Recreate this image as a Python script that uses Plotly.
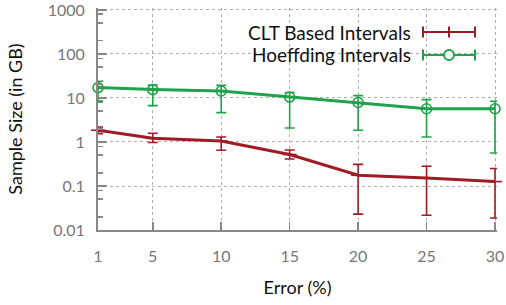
import plotly.graph_objects as go

errors = [1, 5, 10, 15, 20, 25, 30]
x_ticks = [1, 5, 10, 15, 20, 25, 30]
y_tickvals = [0.01, 0.1, 1, 10, 100, 1000]
y_ticktext = ["0.01", "0.1", "1", "10", "100", "1000"]

clt_mid = [1.85, 1.21, 1.05, 0.52, 0.175, 0.152, 0.126]
clt_hi = [2.19, 1.58, 1.30, 0.66, 0.31, 0.28, 0.25]
clt_lo = [1.55, 0.97, 0.65, 0.41, 0.023, 0.0216, 0.0187]

hoef_mid = [17.2, 15.5, 14.4, 10.5, 7.9, 5.7, 5.7]
hoef_hi = [24.0, 19.7, 19.4, 13.3, 11.3, 9.2, 8.4]
hoef_lo = [8.5, 6.7, 4.66, 2.08, 1.85, 1.3, 0.56]

RED = "#a01c24"
GREEN = "#1fa24a"
GRAY = "#888888"
FONT = "Lato"

FIG_W, FIG_H = 506, 305
L, R, T, B = 98, 497, 8, 230  # plot area in figure pixels
W, H = R - L, B - T

fig = go.Figure()

def add_series(mid, hi, lo, color, symbol, msize, name):
    fig.add_trace(go.Scatter(
        x=errors, y=mid, name=name, mode="lines+markers",
        line=dict(color=color, width=3),
        marker=dict(symbol=symbol, size=msize, color=color,
                    line=dict(color=color, width=1.6)),
        error_y=dict(type="data", symmetric=False,
                     array=[h - m for h, m in zip(hi, mid)],
                     arrayminus=[m - l for m, l in zip(mid, lo)],
                     color=color, thickness=1.6, width=5),
        cliponaxis=False, showlegend=False,
    ))

add_series(clt_mid, clt_hi, clt_lo, RED, "line-ew", 10, "CLT Based Intervals")
add_series(hoef_mid, hoef_hi, hoef_lo, GREEN, "circle-open", 10, "Hoeffding Intervals")

def px(xp):
    return (xp - L) / W
def py(yp):
    return (B - yp) / H

shapes = []
annotations = []
legend_rows = [("CLT Based Intervals", RED, 32, "plus"),
               ("Hoeffding Intervals", GREEN, 55, "circle")]
for label, color, yrow, kind in legend_rows:
    annotations.append(dict(xref="paper", yref="paper", x=px(413), y=py(yrow),
                            xanchor="right", yanchor="middle", showarrow=False,
                            text=label, font=dict(family=FONT, size=19, color="#111111")))
    x0, x1, xm = px(423), px(475), px(449)
    lw = 2
    shapes.append(dict(type="line", xref="paper", yref="paper", x0=x0, x1=x1,
                       y0=py(yrow), y1=py(yrow), line=dict(color=color, width=lw)))
    for xe in (x0, x1):
        shapes.append(dict(type="line", xref="paper", yref="paper", x0=xe, x1=xe,
                           y0=py(yrow - 5.5), y1=py(yrow + 5.5), line=dict(color=color, width=lw)))
    if kind == "plus":
        shapes.append(dict(type="line", xref="paper", yref="paper", x0=xm, x1=xm,
                           y0=py(yrow - 5.5), y1=py(yrow + 5.5), line=dict(color=color, width=lw)))
    else:
        shapes.append(dict(type="circle", xref="paper", yref="paper",
                           xsizemode="pixel", ysizemode="pixel",
                           xanchor=xm, yanchor=py(yrow), x0=-5, x1=5, y0=-5, y1=5,
                           fillcolor="white", line=dict(color=color, width=lw)))

fig.update_layout(
    width=FIG_W, height=FIG_H,
    margin=dict(l=L, r=FIG_W - R, t=T, b=FIG_H - B, pad=0),
    paper_bgcolor="white", plot_bgcolor="white",
    font=dict(family=FONT, size=16, color="#777777"),
    shapes=shapes, annotations=annotations,
    xaxis=dict(
        range=[1, 30.146], tickvals=x_ticks, ticktext=[str(v) for v in x_ticks],
        ticks="inside", ticklen=8, tickwidth=1.5, tickcolor=GRAY,
        showline=True, linecolor=GRAY, linewidth=2, mirror=False,
        showgrid=True, gridcolor="#b0b0b0", griddash="dot", gridwidth=1,
        zeroline=False, ticklabelstandoff=11, automargin=False,
        ticklabeloverflow="allow",
        title=dict(text="Error (%)", font=dict(family=FONT, size=18, color="#111111"), standoff=17),
    ),
    yaxis=dict(
        type="log", range=[-2, 3.045], tickvals=y_tickvals, ticktext=y_ticktext,
        ticks="inside", ticklen=9, tickwidth=1.5, tickcolor=GRAY,
        minor=dict(tickvals=[m * 10 ** e for e in range(-2, 3) for m in (2, 5, 8)],
                   ticks="inside", ticklen=5, tickwidth=1.5, tickcolor=GRAY, showgrid=False),
        showline=True, linecolor=GRAY, linewidth=2, mirror=False,
        showgrid=True, gridcolor="#b0b0b0", griddash="dot", gridwidth=1,
        zeroline=False, ticklabelstandoff=8, automargin=False,
        ticklabeloverflow="allow",
        title=dict(text="Sample Size (in GB)", font=dict(family=FONT, size=18, color="#111111"), standoff=20),
    ),
)

fig.write_html(
    "out.html",
    config={"displayModeBar": False, "staticPlot": True},
    post_script="document.body.style.margin='0';document.documentElement.style.overflow='hidden';",
)
